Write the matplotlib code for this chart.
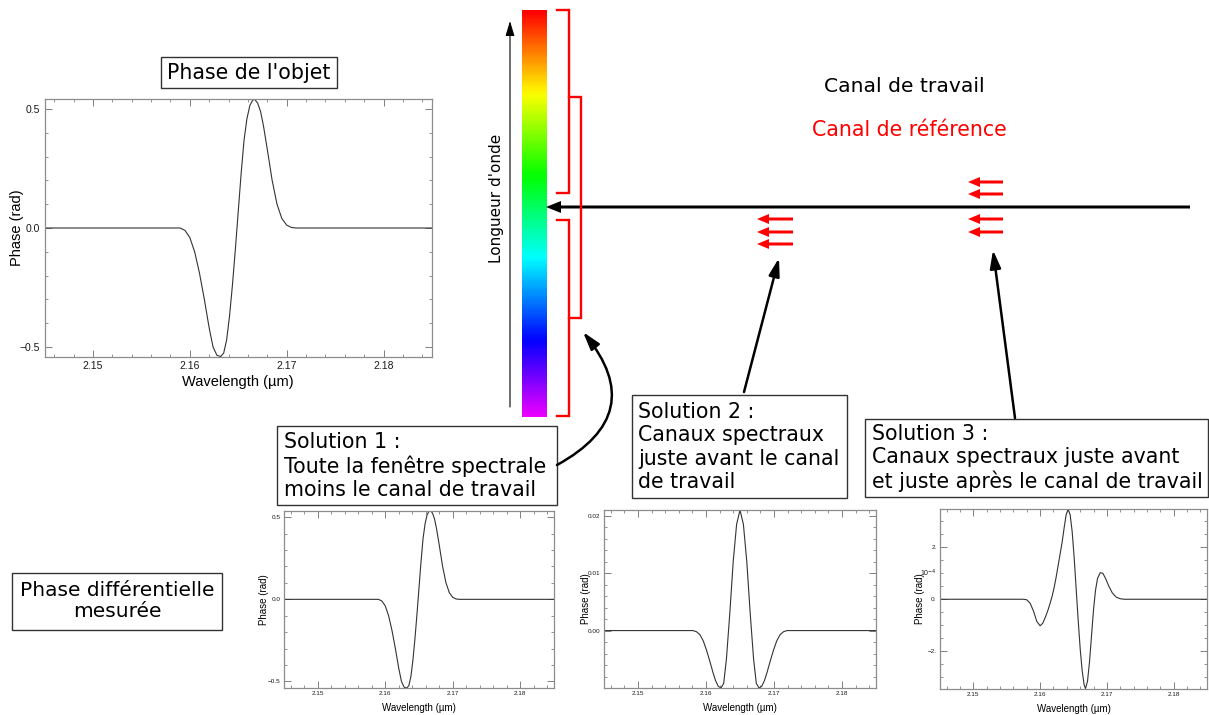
import numpy as np
import matplotlib
matplotlib.use('Agg')
import matplotlib.pyplot as plt
from matplotlib.patches import Rectangle
from matplotlib.ticker import MultipleLocator

# --- Donnees ---
# phase de l'objet (rad), reprise pour la solution 1
lam_obj = [2.1450, 2.1590, 2.1595, 2.1600, 2.1605, 2.1610, 2.1615, 2.1620, 2.1624,
           2.1628, 2.1632, 2.1635, 2.1638, 2.1641, 2.1644, 2.1647, 2.1650, 2.1653,
           2.1656, 2.1659, 2.1662, 2.1665, 2.1667, 2.1670, 2.1673, 2.1676, 2.1680,
           2.1685, 2.1690, 2.1695, 2.1700, 2.1705, 2.1710, 2.1850]
phase_obj = [0.0, 0.0, -0.01, -0.04, -0.10, -0.19, -0.30, -0.42, -0.50,
             -0.535, -0.54, -0.525, -0.47, -0.37, -0.24, -0.09, 0.07, 0.23,
             0.37, 0.46, 0.515, 0.538, 0.54, 0.525, 0.49, 0.43, 0.33,
             0.20, 0.10, 0.04, 0.012, 0.002, 0.0, 0.0]

# solution 2 (rad)
lam_sol2 = [2.1450, 2.1581, 2.1586, 2.1591, 2.1596, 2.1601, 2.1606, 2.1610, 2.1614,
            2.1618, 2.1622, 2.1626, 2.1630, 2.1635, 2.1640, 2.1645, 2.1650, 2.1655,
            2.1660, 2.1665, 2.1670, 2.1674, 2.1678, 2.1682, 2.1686, 2.1690, 2.1694,
            2.1699, 2.1704, 2.1709, 2.1714, 2.1719, 2.1850]
phase_sol2 = [0.0, 0.0, -0.0002, -0.0007, -0.0018, -0.0035, -0.0055, -0.0072, -0.0087,
              -0.0097, -0.0100, -0.0092, -0.0050, 0.0030, 0.0120, 0.0185, 0.0210, 0.0185,
              0.0120, 0.0030, -0.0050, -0.0092, -0.0100, -0.0097, -0.0087, -0.0072, -0.0055,
              -0.0035, -0.0018, -0.0007, -0.0002, 0.0, 0.0]

# solution 3 (unites de 1e-4 rad)
lam_sol3 = [2.1450, 2.1575, 2.1580, 2.1585, 2.1590, 2.1595, 2.1600, 2.1604, 2.1608,
            2.1612, 2.1615, 2.1618, 2.1621, 2.1624, 2.1627, 2.1630, 2.1633, 2.1636,
            2.1639, 2.1642, 2.1645, 2.1648, 2.1651, 2.1654, 2.1657, 2.1660, 2.1663,
            2.1666, 2.1668, 2.1671, 2.1674, 2.1677, 2.1680, 2.1683, 2.1686, 2.1690,
            2.1694, 2.1698, 2.1703, 2.1708, 2.1714, 2.1720, 2.1726, 2.1850]
phase_sol3 = [0.0, 0.0, -0.02, -0.15, -0.45, -0.85, -1.02, -0.92, -0.68,
              -0.40, -0.15, 0.12, 0.45, 0.85, 1.30, 1.75, 2.20, 2.75,
              3.25, 3.46, 3.25, 2.60, 1.60, 0.40, -0.80, -1.90, -2.75,
              -3.30, -3.43, -3.15, -2.40, -1.40, -0.40, 0.35, 0.80, 1.02,
              1.00, 0.80, 0.50, 0.25, 0.08, 0.02, 0.0, 0.0]

xticks = [2.15, 2.16, 2.17, 2.18]
xtick_labels = ['2.15', '2.16', '2.17', '2.18']
yticks_obj = [-0.5, 0.0, 0.5]
ytick_labels_obj = ['\u22120.5', '0.0', '0.5']
yticks_sol2 = [0.0, 0.01, 0.02]
ytick_labels_sol2 = ['0.00', '0.01', '0.02']
yticks_sol3 = [-2, 0, 2]
ytick_labels_sol3 = ['\u22122.', '0.', '2.']

W, H = 1209, 715
fig = plt.figure(figsize=(W / 100, H / 100), dpi=100)

# axe "schema" en coordonnees pixels
ax0 = fig.add_axes([0, 0, 1, 1])
ax0.axis('off')


def px_axes(x0, y0, x1, y1):
    return fig.add_axes([x0 / W, 1 - y1 / H, (x1 - x0) / W, (y1 - y0) / H])


def style_plot(ax, lam, phase, ylim, yt, ytl, ymin, tick_fs, lab_fs, ylab_x, xlab_y, pad):
    ax.plot(lam, phase, color='0.2', lw=0.8)
    ax.set_xlim(2.145, 2.185)
    ax.set_ylim(*ylim)
    ax.set_xticks(xticks)
    ax.set_xticklabels(xtick_labels)
    ax.set_yticks(yt)
    ax.set_yticklabels(ytl)
    ax.xaxis.set_minor_locator(MultipleLocator(0.002))
    ax.yaxis.set_minor_locator(MultipleLocator(ymin))
    ax.tick_params(which='both', direction='in', top=True, right=True,
                   color='0.5', labelcolor='0.1', labelsize=tick_fs, pad=pad)
    ax.tick_params(which='major', length=5, width=0.7)
    ax.tick_params(which='minor', length=2.5, width=0.6)
    for s in ax.spines.values():
        s.set_color('0.55')
        s.set_linewidth(0.9)
    for lbl in ax.get_xticklabels() + ax.get_yticklabels():
        lbl.set_family('Liberation Sans')
    ax.set_xlabel('Wavelength (\u00b5m)', fontsize=lab_fs, family='Liberation Sans')
    ax.set_ylabel('Phase (rad)', fontsize=lab_fs, family='Liberation Sans')
    ax.yaxis.set_label_coords(ylab_x, 0.5)
    ax.xaxis.set_label_coords(0.5, xlab_y)


# graphique du haut : phase de l'objet
ax1 = px_axes(44.5, 99, 432, 357)
style_plot(ax1, lam_obj, phase_obj, (-0.542, 0.542), yticks_obj, ytick_labels_obj,
           0.1, 7.5, 10.5, -0.053, -0.07, 3)

# solutions 1, 2, 3
axs1 = px_axes(284, 511, 554, 688)
style_plot(axs1, lam_obj, phase_obj, (-0.540, 0.538), yticks_obj, ytick_labels_obj,
           0.1, 4.6, 7, -0.054, -0.085, 2.5)
axs2 = px_axes(604, 510, 876, 688)
style_plot(axs2, lam_sol2, phase_sol2, (-0.01, 0.021), yticks_sol2, ytick_labels_sol2,
           0.002, 4.6, 7, -0.046, -0.085, 2.5)
axs3 = px_axes(940, 509, 1207, 689)
style_plot(axs3, lam_sol3, phase_sol3, (-3.45, 3.47), yticks_sol3, ytick_labels_sol3,
           0.5, 4.6, 7, -0.055, -0.085, 2.5)
axs3.text(-0.042, 0.64, '10$^{-4}$', transform=axs3.transAxes, fontsize=5,
          ha='center', va='center', color='0.1', family='Liberation Sans')

# --- schema ---
# barre spectrale
grad = np.linspace(0, 5 / 6, 256).reshape(-1, 1)
ax0.imshow(grad, extent=(521.7, 546.7, 416.7, 10), aspect='auto', cmap='hsv',
           vmin=0, vmax=1, origin='upper', interpolation='bilinear')
ax0.set_xlim(0, W)
ax0.set_ylim(H, 0)

# fleche longueur d'onde
ax0.annotate('', xy=(510, 21), xytext=(510, 407),
             arrowprops=dict(arrowstyle='-|>,head_length=0.6,head_width=0.18',
                             mutation_scale=15, lw=0.8, color='k', shrinkA=0, shrinkB=0))
ax0.text(497, 198, "Longueur d'onde", rotation=90, ha='center', va='center', fontsize=11)

# crochets rouges
brackets = [(10, 193, 569, 557), (97, 318, 581, 569), (220, 416, 569, 557)]
for y0, y1, xv, xe in brackets:
    ax0.plot([xe, xv, xv, xe], [y0, y0, y1, y1], color='red', lw=1.7,
             solid_joinstyle='miter')

# fleche horizontale du canal de travail
ax0.arrow(1190, 207, 546 - 1190, 0, width=3, head_width=12, head_length=15,
          length_includes_head=True, color='k', lw=0)

# fleches rouges des canaux de reference
red_arrows = [(793, 757, 219), (793, 757, 232), (793, 757, 244),
              (1003, 968, 182), (1003, 968, 194), (1003, 968, 219), (1003, 968, 232)]
for xt, xh, y in red_arrows:
    ax0.arrow(xt, y, xh - xt, 0, width=3, head_width=10, head_length=12,
              length_includes_head=True, color='red', lw=0)

ax0.text(904, 86, 'Canal de travail', ha='center', va='center', fontsize=14.6)
ax0.text(909, 130, 'Canal de r\u00e9f\u00e9rence', ha='center', va='center',
         fontsize=14.8, color='red')

# fleches noires vers les canaux
arrow_kw = dict(arrowstyle='-|>,head_length=0.6,head_width=0.18', mutation_scale=18,
                lw=1.8, color='k', shrinkA=0, shrinkB=0)
ax0.annotate('', xy=(779, 258), xytext=(744, 392), arrowprops=arrow_kw)
ax0.annotate('', xy=(993, 250), xytext=(1015, 418), arrowprops=arrow_kw)
ax0.annotate('', xy=(583, 332), xytext=(557, 465),
             arrowprops=dict(arrow_kw, connectionstyle='arc3,rad=0.6'))

# boites de texte
boxes = [(160.5, 57, 336.5, 88), (277, 426, 557, 505), (632, 395, 846.5, 498),
         (865, 419, 1208, 497), (12, 573, 221.5, 629.5)]
for x0, y0, x1, y1 in boxes:
    ax0.add_patch(Rectangle((x0, y0), x1 - x0, y1 - y0, fc='white', ec='0.2', lw=1.0))

ax0.text(248.5, 73, "Phase de l'objet", ha='center', va='center', fontsize=14.8)
ax0.text(284, 466, 'Solution 1 :\nToute la fen\u00eatre spectrale\nmoins le canal de travail',
         ha='left', va='center', fontsize=14.8, linespacing=1.2)
ax0.text(638, 447, 'Solution 2 :\nCanaux spectraux\njuste avant le canal\nde travail',
         ha='left', va='center', fontsize=14.8, linespacing=1.2)
ax0.text(871.5, 458, 'Solution 3 :\nCanaux spectraux juste avant\net juste apr\u00e8s le canal de travail',
         ha='left', va='center', fontsize=14.8, linespacing=1.2)
ax0.text(117, 601, 'Phase diff\u00e9rentielle\nmesur\u00e9e', ha='center', va='center',
         fontsize=14.5, linespacing=1.15)

fig.savefig('out.png', dpi=100)
